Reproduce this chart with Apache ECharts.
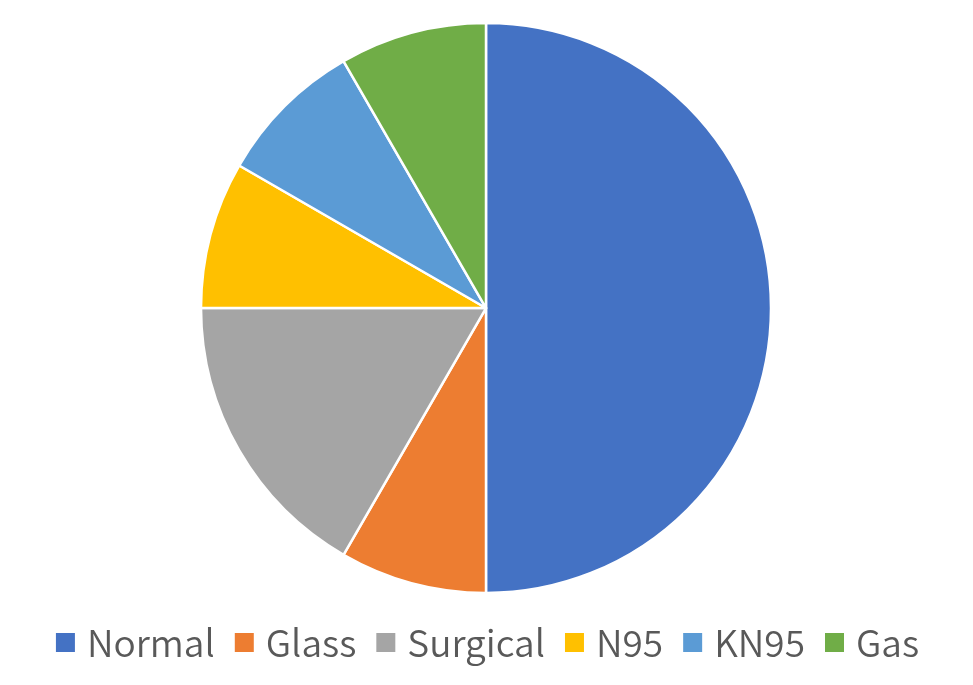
<!DOCTYPE html>
<html><head><meta charset="utf-8">
<script src="https://cdn.jsdelivr.net/npm/echarts@6/dist/echarts.min.js"></script>
<style>html,body{margin:0;padding:0;background:#fff}#c{width:973px;height:685px}</style>
</head><body><div id="c"></div>
<script>
const categories = ['Normal','Glass','Surgical','N95','KN95','Gas'];
const values = [6, 1, 2, 1, 1, 1];
const colors = ['#4472C4','#ED7D31','#A5A5A5','#FFC000','#5B9BD5','#70AD47'];

const chart = echarts.init(document.getElementById('c'));
chart.setOption({
  animation: false,
  color: colors,
  legend: {
    data: categories,
    bottom: 19,
    left: 'center',
    icon: 'rect',
    itemWidth: 21,
    itemHeight: 21,
    itemGap: 18,
    textStyle: { fontSize: 37, fontWeight: 350, color: '#595959', fontFamily: 'Noto Sans CJK SC', padding: [0,0,0,6] }
  },
  series: [{
    type: 'pie',
    center: [486, 308],
    radius: 285,
    startAngle: 90,
    clockwise: true,
    label: { show: false },
    labelLine: { show: false },
    itemStyle: { borderColor: '#fff', borderWidth: 2.5 },
    emphasis: { disabled: true },
    data: categories.map((n,i)=>({name:n, value: values[i]}))
  }]
});
</script></body></html>
